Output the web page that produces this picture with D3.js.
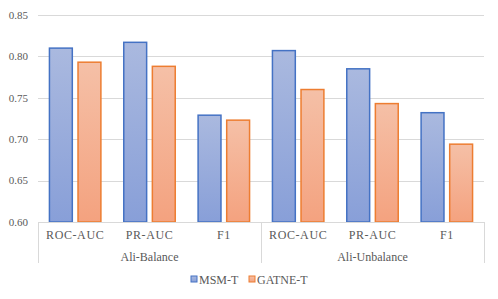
<!DOCTYPE html>
<html lang="en">
<head>
<meta charset="utf-8">
<title>MSM-T vs GATNE-T</title>
<script src="https://cdn.jsdelivr.net/npm/d3@7"></script>
<style>
  body { margin: 0; background: #fff; }
</style>
</head>
<body>
<script>
  var w = 498, h = 299;

  var groups = ["Ali-Balance", "Ali-Unbalance"];
  var metrics = ["ROC-AUC", "PR-AUC", "F1"];
  var seriesNames = ["MSM-T", "GATNE-T"];
  var msmT = [0.810, 0.817, 0.729, 0.807, 0.785, 0.732];
  var gatneT = [0.793, 0.788, 0.723, 0.760, 0.743, 0.694];
  var yTicks = [0.60, 0.65, 0.70, 0.75, 0.80, 0.85];

  var strokeCols = ["#4472c4", "#ed7d31"];
  var gradTop = ["#aab9df", "#f5c0a7"];
  var gradBot = ["#889fd8", "#f4a27f"];

  var plotL = 38, plotR = 484, plotT = 15, plotB = 222;

  var svg = d3.select("body").append("svg")
    .attr("width", w).attr("height", h)
    .attr("font-family", "'Liberation Serif', 'DejaVu Serif', serif");

  var defs = svg.append("defs");
  seriesNames.forEach(function(s, i) {
    var g = defs.append("linearGradient").attr("id", "grad" + i)
      .attr("x1", 0).attr("y1", 0).attr("x2", 0).attr("y2", 1);
    g.append("stop").attr("offset", "0%").attr("stop-color", gradTop[i]);
    g.append("stop").attr("offset", "100%").attr("stop-color", gradBot[i]);
  });

  // one slot per (group, metric)
  var cats = [];
  groups.forEach(function(g) {
    metrics.forEach(function(m) { cats.push(g + "|" + m); });
  });

  var x = d3.scaleBand().domain(cats).range([plotL, plotR]).paddingInner(0).paddingOuter(0);
  var xs = d3.scaleBand().domain(seriesNames).range([0, x.bandwidth()])
    .paddingInner(0.2).paddingOuter(0.4);
  var y = d3.scaleLinear().domain([0.60, 0.85]).range([plotB, plotT]);

  // gridlines
  svg.selectAll("line.grid").data(yTicks.slice(1)).enter().append("line")
    .attr("class", "grid")
    .attr("x1", plotL).attr("x2", plotR)
    .attr("y1", function(d) { return Math.round(y(d)) + 0.5; })
    .attr("y2", function(d) { return Math.round(y(d)) + 0.5; })
    .attr("stroke", "#d9d9d9").attr("stroke-width", 1);

  // y tick labels
  svg.selectAll("text.ytick").data(yTicks).enter().append("text")
    .attr("class", "ytick")
    .attr("x", 28)
    .attr("y", function(d) { return y(d); })
    .attr("dy", "0.35em")
    .attr("text-anchor", "end")
    .attr("font-size", 11)
    .attr("fill", "#595959")
    .text(function(d) { return d.toFixed(2); });

  // bars
  var data = [msmT, gatneT];
  data.forEach(function(vals, si) {
    svg.selectAll("rect.s" + si).data(vals).enter().append("rect")
      .attr("class", "s" + si)
      .attr("x", function(d, i) { return x(cats[i]) + xs(seriesNames[si]); })
      .attr("y", function(d) { return y(d); })
      .attr("width", xs.bandwidth())
      .attr("height", function(d) { return y(0.60) - y(d); })
      .attr("fill", "url(#grad" + si + ")")
      .attr("stroke", strokeCols[si])
      .attr("stroke-width", 1.5);
  });

  // category axis box
  var axisCol = "#d9d9d9";
  svg.append("line")
    .attr("x1", plotL).attr("x2", plotR)
    .attr("y1", plotB + 0.5).attr("y2", plotB + 0.5)
    .attr("stroke", axisCol);
  var seps = [0, 3, 6].map(function(k) { return k < cats.length ? x(cats[k]) : plotR; });
  svg.selectAll("line.sep").data(seps).enter().append("line")
    .attr("class", "sep")
    .attr("x1", function(d) { return Math.round(d) + 0.5; })
    .attr("x2", function(d) { return Math.round(d) + 0.5; })
    .attr("y1", plotB).attr("y2", 263)
    .attr("stroke", axisCol);

  svg.selectAll("text.cat").data(cats).enter().append("text")
    .attr("class", "cat")
    .attr("x", function(d) { return x(d) + x.bandwidth() / 2; })
    .attr("y", 239)
    .attr("text-anchor", "middle")
    .attr("font-size", 12)
    .attr("letter-spacing", 0.6)
    .attr("fill", "#595959")
    .text(function(d) { return d.split("|")[1]; });

  svg.selectAll("text.grp").data(groups).enter().append("text")
    .attr("class", "grp")
    .attr("x", function(d, i) { return (seps[i] + seps[i + 1]) / 2; })
    .attr("y", 261)
    .attr("text-anchor", "middle")
    .attr("font-size", 12)
    .attr("fill", "#595959")
    .text(function(d) { return d; });

  // legend
  var legX = [191, 249];
  seriesNames.forEach(function(s, i) {
    svg.append("rect")
      .attr("x", legX[i]).attr("y", 276)
      .attr("width", 6).attr("height", 6)
      .attr("fill", "url(#grad" + i + ")")
      .attr("stroke", strokeCols[i]).attr("stroke-width", 1);
    svg.append("text")
      .attr("x", legX[i] + 8).attr("y", 284)
      .attr("font-size", 12)
      .attr("fill", "#595959")
      .text(s);
  });
</script>
</body>
</html>
